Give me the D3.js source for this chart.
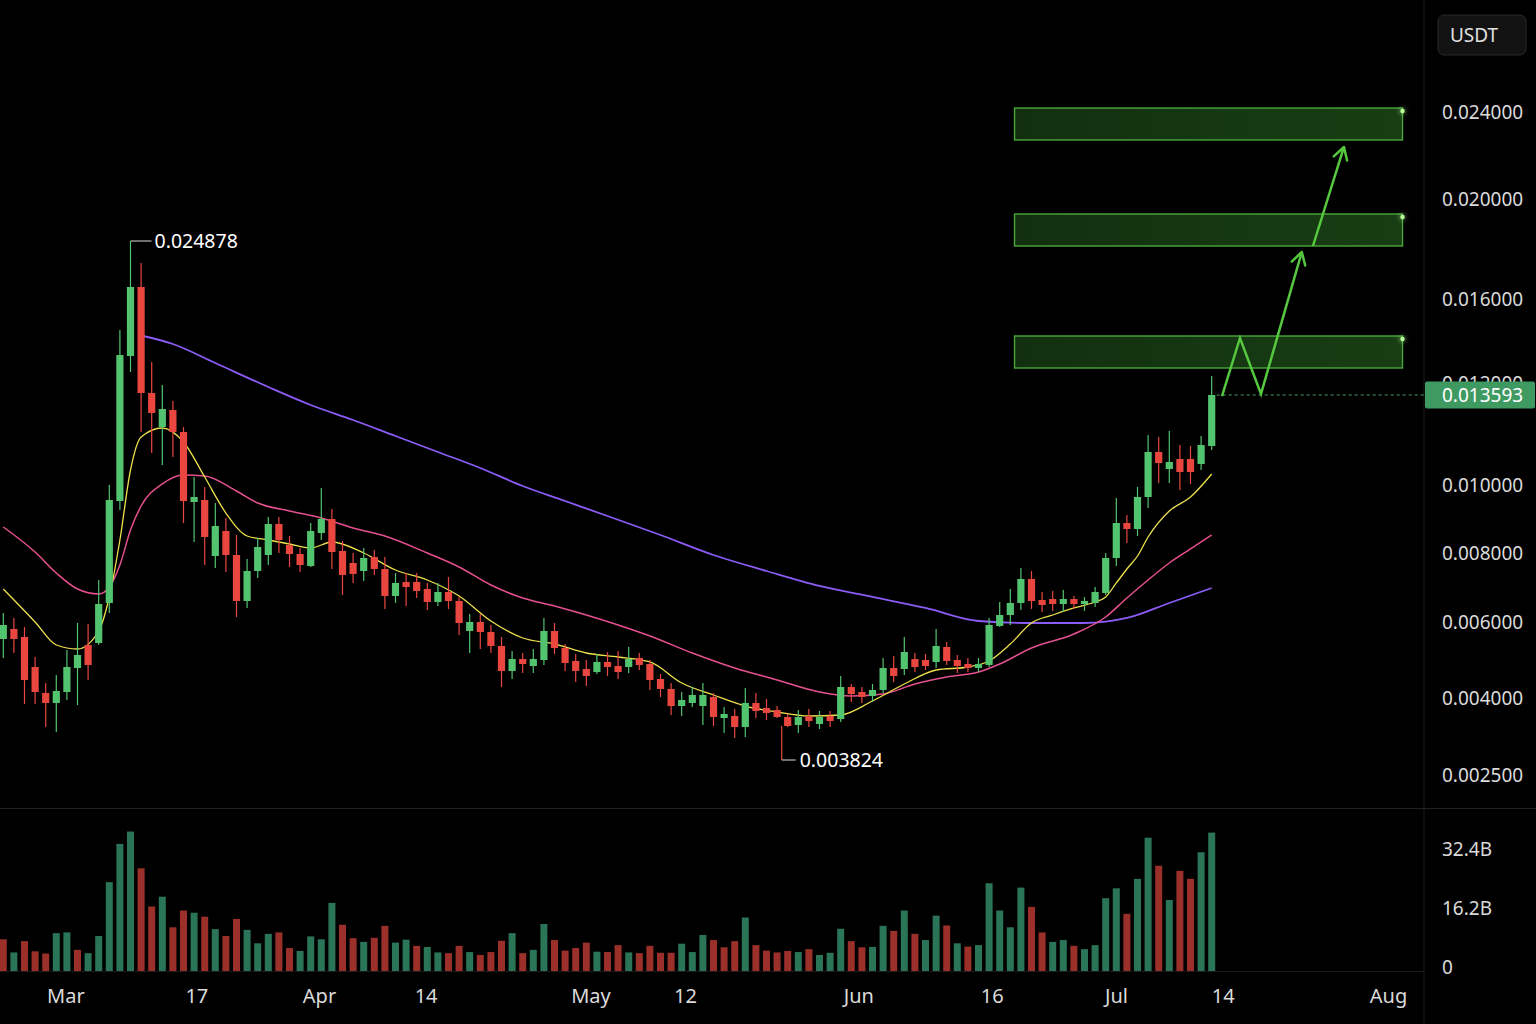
<!DOCTYPE html>
<html>
<head>
<meta charset="utf-8">
<script src="https://cdn.jsdelivr.net/npm/d3@7"></script>
<style>
  html, body { margin: 0; background: #000; }
  svg text { font-family: "Noto Sans", "DejaVu Sans", sans-serif; }
</style>
</head>
<body>
<svg id="chart" width="1536" height="1024"></svg>
<script>
// daily candles, oldest first (price in USDT)
const opens = [0.005553,0.005816,0.005606,0.004816,0.004132,0.003903,0.004158,0.004790,0.005395,0.005448,
  0.006551,0.009529,0.013286,0.016480,0.011804,0.011137,0.011471,0.011039,0.009500,0.009559,
  0.007913,0.008647,0.007942,0.006609,0.007478,0.007942,0.008853,0.008235,0.007971,0.007623,
  0.008588,0.009000,0.008059,0.007710,0.007478,0.007884,0.007536,0.006754,0.007160,0.007160,
  0.006957,0.006580,0.006870,0.006609,0.005763,0.006000,0.005737,0.005369,0.004711,0.005026,
  0.004842,0.005000,0.005763,0.005316,0.004974,0.004763,0.004684,0.004948,0.004842,0.004816,
  0.005053,0.004895,0.004500,0.004237,0.003844,0.003903,0.003844,0.004026,0.003610,0.003649,
  0.003435,0.003903,0.003805,0.003766,0.003630,0.003474,0.003649,0.003493,0.003649,0.003591,
  0.004290,0.004158,0.004053,0.004211,0.004790,0.004763,0.005026,0.005000,0.004948,0.005342,
  0.005000,0.004895,0.004790,0.004869,0.005895,0.006203,0.006551,0.007247,0.006638,0.006667,
  0.006522,0.006667,0.006522,0.006551,0.006841,0.007855,0.008882,0.008706,0.009647,0.010647,
  0.010314,0.010510,0.010510,0.010412,0.010765];
const highs = [0.006261,0.006116,0.005869,0.005079,0.004395,0.004605,0.005263,0.005974,0.005948,0.007218,
  0.010000,0.014524,0.018320,0.017440,0.013000,0.011961,0.011647,0.011137,0.010157,0.009941,
  0.009471,0.009029,0.008529,0.007826,0.008441,0.009059,0.009059,0.008500,0.008147,0.008882,
  0.009912,0.009294,0.008353,0.008000,0.008147,0.008088,0.007884,0.007421,0.007421,0.007421,
  0.007131,0.007131,0.007305,0.006725,0.006232,0.006232,0.005921,0.005606,0.005237,0.005184,
  0.005290,0.006116,0.005974,0.005421,0.005158,0.005000,0.005158,0.005211,0.005237,0.005342,
  0.005184,0.005000,0.004632,0.004395,0.004158,0.004290,0.004395,0.004132,0.003825,0.003786,
  0.004263,0.004132,0.003981,0.003844,0.003688,0.003766,0.003786,0.003747,0.003747,0.004579,
  0.004368,0.004290,0.004368,0.005053,0.005105,0.005606,0.005184,0.005158,0.005816,0.005474,
  0.005132,0.005053,0.005053,0.006116,0.006580,0.006957,0.007565,0.007478,0.006870,0.006899,
  0.006928,0.006754,0.006725,0.007015,0.008000,0.009618,0.009118,0.009941,0.010981,0.010941,
  0.011059,0.010784,0.010765,0.010961,0.012333];
const lows = [0.005053,0.005184,0.003883,0.003883,0.003435,0.003338,0.003961,0.003864,0.004474,0.005395,
  0.006261,0.009265,0.012524,0.011039,0.010628,0.010392,0.010549,0.008882,0.008324,0.007652,
  0.007565,0.007450,0.006145,0.006406,0.007276,0.007652,0.008000,0.007594,0.007450,0.007594,
  0.008382,0.007536,0.006783,0.007131,0.007189,0.007363,0.006377,0.006551,0.006464,0.006696,
  0.006348,0.006464,0.006377,0.005658,0.005184,0.005290,0.005184,0.004290,0.004500,0.004658,
  0.004658,0.004869,0.005158,0.004711,0.004421,0.004316,0.004632,0.004579,0.004500,0.004658,
  0.004737,0.004211,0.004026,0.003669,0.003649,0.003825,0.003474,0.003455,0.003318,0.003221,
  0.003240,0.003610,0.003571,0.003610,0.003435,0.003318,0.003435,0.003396,0.003435,0.003532,
  0.003922,0.003903,0.003922,0.004132,0.004421,0.004605,0.004684,0.004737,0.004790,0.004869,
  0.004658,0.004684,0.004684,0.004816,0.005869,0.005921,0.006348,0.006377,0.006290,0.006319,
  0.006290,0.006377,0.006319,0.006435,0.006783,0.007623,0.008294,0.008500,0.009324,0.010039,
  0.010039,0.009853,0.010020,0.010294,0.010686];
const closes = [0.005921,0.005553,0.004474,0.004158,0.003903,0.004184,0.004816,0.005132,0.004869,0.006522,
  0.009559,0.013333,0.016480,0.011804,0.011412,0.011490,0.011039,0.009529,0.009647,0.008471,
  0.008794,0.007942,0.006609,0.007478,0.008176,0.008853,0.008382,0.007971,0.007652,0.008647,
  0.009000,0.008029,0.007363,0.007392,0.007855,0.007536,0.006754,0.007131,0.007015,0.006899,
  0.006580,0.006870,0.006609,0.005974,0.006000,0.005737,0.005369,0.004711,0.005026,0.004895,
  0.005026,0.005763,0.005316,0.004921,0.004711,0.004579,0.004948,0.004816,0.004684,0.005026,
  0.004869,0.004474,0.004237,0.003844,0.003961,0.004079,0.004079,0.003630,0.003688,0.003435,
  0.003903,0.003747,0.003708,0.003630,0.003455,0.003630,0.003552,0.003630,0.003552,0.004290,
  0.004105,0.004026,0.004211,0.004790,0.004579,0.005211,0.004816,0.004842,0.005369,0.004974,
  0.004842,0.004790,0.004895,0.005921,0.006203,0.006551,0.007247,0.006609,0.006493,0.006522,
  0.006667,0.006522,0.006609,0.006870,0.007855,0.008882,0.008706,0.009647,0.010647,0.010431,
  0.010451,0.010255,0.010255,0.010784,0.011765];

// volume in billions, bar colour g/r
const volumes = [8.7,5.1,8.2,5.4,4.8,10.4,10.6,5.8,4.9,9.6,
  24.4,34.9,38.3,28.2,17.7,20.4,12.0,16.6,16.0,14.9,
  11.5,9.6,14.3,11.3,7.6,10.2,10.6,6.3,5.5,9.5,
  8.7,18.7,12.7,9.0,8.0,9.1,12.4,7.8,8.6,6.9,
  6.6,5.1,4.9,6.9,5.2,4.4,5.2,8.3,10.4,4.9,
  5.8,12.9,8.5,5.6,6.3,7.8,5.3,5.2,7.1,5.1,
  4.9,6.9,5.0,5.0,7.5,5.2,9.9,8.5,6.5,8.2,
  14.7,7.1,5.6,5.1,5.5,5.2,6.0,4.4,5.0,11.6,
  8.2,6.5,6.6,12.4,11.0,16.6,10.2,8.5,15.2,12.5,
  7.6,6.7,7.1,24.1,16.6,12.0,22.9,17.6,10.6,8.0,
  8.5,6.9,6.0,7.1,20.0,22.7,15.7,25.3,36.6,28.9,
  19.5,27.5,25.3,32.6,38.0];
const volDir = "rgrrrggrgg" + "gggrrgrrgr" + "grrgggrrgg" + "ggrrgrrggr" + "ggrrgrrrgr" +
  "ggrrrrgrrg" + "rrrrgggrrr" + "grrrrgrggg" + "rrggrgrggr" + "grgggggrrg" +
  "grggggrggr" + "grrgg";

// moving averages: [candle index, price]
const maFastIdx = [0,3,5,7,9,10,11,12,13,15,17,19,21,23,25,27,29,31,34,37,40,43,46,49,52,55,58,61,64,67,
  70,73,76,79,82,85,88,91,93,95,97,99,101,103,104,105,106,107,108,110,112,114];
const maFastVal = [0.006957,0.006000,0.005395,0.005290,0.005763,0.006725,0.008382,0.010294,0.010941,0.011118,
  0.010843,0.010157,0.009176,0.008500,0.008382,0.008265,0.008147,0.008324,0.008000,0.007507,
  0.007218,0.006754,0.006029,0.005579,0.005421,0.005184,0.005079,0.004948,0.004395,0.004079,
  0.003844,0.003727,0.003649,0.003669,0.003942,0.004368,0.004737,0.004816,0.004974,0.005421,
  0.005974,0.006203,0.006406,0.006580,0.006725,0.007131,0.007536,0.007913,0.008471,0.009235,
  0.009647,0.010216];
const maMidIdx = [0,3,5,7,9,10,11,12,13,15,17,19,22,24,27,30,33,36,40,43,46,49,52,55,58,61,65,69,73,77,
  80,83,86,89,92,94,97,101,104,106,108,110,112,114];
const maMidVal = [0.008765,0.008029,0.007421,0.006957,0.006812,0.007015,0.007652,0.008676,0.009382,0.010020,
  0.010196,0.010177,0.009823,0.009471,0.009235,0.009029,0.008735,0.008500,0.008000,0.007594,
  0.007073,0.006696,0.006464,0.006203,0.005921,0.005632,0.005184,0.004790,0.004474,0.004158,
  0.004053,0.004105,0.004368,0.004553,0.004684,0.004895,0.005316,0.005684,0.006145,0.006696,
  0.007218,0.007710,0.008118,0.008529];
const maSlowIdx = [13,16,20,25,29,33,37,41,45,49,53,57,62,67,72,77,82,87,92,97,102,106,110,114];
const maSlowVal = [0.014262,0.013857,0.012952,0.011922,0.011569,0.011275,0.010961,0.010647,0.010333,0.009970,
  0.009529,0.009088,0.008529,0.007942,0.007478,0.007044,0.006725,0.006406,0.006029,0.005974,
  0.005974,0.006116,0.006551,0.006986];

// axis ticks
const priceTicks = [0.0025, 0.004, 0.006, 0.008, 0.010, 0.012, 0.016, 0.020, 0.024];
const volumeTicks = [0, 16.2, 32.4];
const volumeTickLabels = ["0", "16.2B", "32.4B"];
const dateTickIdx = [5.86, 18.21, 29.78, 39.84, 55.39, 64.31, 80.66, 93.25, 104.97, 115.04, 130.63];
const dateTickLabels = ["Mar", "17", "Apr", "14", "May", "12", "Jun", "16", "Jul", "14", "Aug"];

// annotations
const lastPriceLabel = "0.013593";
const highLabel = { idx: 12, text: "0.024878" };
const lowLabel = { idx: 74, text: "0.003824" };
const zoneLow = [0.012714, 0.018120, 0.022713];
const zoneHigh = [0.014238, 0.019400, 0.024184];
const zoneFrom = 95.4, zoneTo = 132.0;
const pathZigzag = [[114.97, 0.011745], [116.67, 0.014143], [118.65, 0.011785], [122.5, 0.017880]];
const pathFinal = [[123.55, 0.018120], [126.48, 0.022391]];

const W = 1536, H = 1024, axisX = 1424;
const GREEN = "#52c470", RED = "#e8463f";

const svg = d3.select("#chart");
svg.append("rect").attr("width", W).attr("height", H).attr("fill", "#000");

const defs = svg.append("defs");
const glow = defs.append("filter").attr("id", "glow").attr("x", "-200%").attr("y", "-200%")
  .attr("width", "500%").attr("height", "500%");
glow.append("feGaussianBlur").attr("stdDeviation", 2.5).attr("result", "b");
const fm = glow.append("feMerge");
fm.append("feMergeNode").attr("in", "b");
fm.append("feMergeNode").attr("in", "SourceGraphic");

const zg = defs.append("linearGradient").attr("id", "zoneFill").attr("x1", 0).attr("x2", 1);
zg.append("stop").attr("offset", 0).attr("stop-color", "#12300f");
zg.append("stop").attr("offset", 1).attr("stop-color", "#183d14");

defs.append("marker").attr("id", "head").attr("viewBox", "-14 -9 16 18")
  .attr("markerWidth", 16).attr("markerHeight", 18).attr("markerUnits", "userSpaceOnUse")
  .attr("orient", "auto").attr("refX", 0).attr("refY", 0)
  .append("path").attr("d", "M-12,-7 L0,0 L-12,7")
  .attr("fill", "none").attr("stroke", "#55c83f").attr("stroke-width", 2.5)
  .attr("stroke-linecap", "round").attr("stroke-linejoin", "round");

// scales
const x = d3.scaleLinear().domain([0, 114]).range([3.3, 1211.7]);
const y = d3.scaleLinear().domain(priceTicks).range([775, 698, 622, 553, 485, 383, 299, 199, 112]);
const vy = d3.scaleLinear().domain([0, 32.4]).range([971, 853]);

// frame lines
svg.append("line").attr("x1", axisX).attr("x2", axisX).attr("y1", 0).attr("y2", H)
  .attr("stroke", "#1d1d1d");
svg.append("line").attr("x1", 0).attr("x2", W).attr("y1", 808.5).attr("y2", 808.5)
  .attr("stroke", "#222");
svg.append("line").attr("x1", 0).attr("x2", axisX).attr("y1", 971.5).attr("y2", 971.5)
  .attr("stroke", "#1a1a1a");

// target zones
const zones = svg.append("g");
zoneLow.forEach((lo, k) => {
  const top = y(zoneHigh[k]), bot = y(lo);
  zones.append("rect")
    .attr("x", x(zoneFrom)).attr("y", top)
    .attr("width", x(zoneTo) - x(zoneFrom)).attr("height", bot - top)
    .attr("fill", "url(#zoneFill)").attr("stroke", "#4aa83a").attr("stroke-width", 1.4);
  zones.append("circle").attr("cx", x(zoneTo)).attr("cy", top + 3).attr("r", 2.2)
    .attr("fill", "#b8ff9a").attr("filter", "url(#glow)");
});

// volume
const idx = d3.range(opens.length);
svg.append("g").selectAll("rect").data(idx).join("rect")
  .attr("x", i => x(i) - 3.5).attr("width", 7)
  .attr("y", i => vy(volumes[i])).attr("height", i => vy(0) - vy(volumes[i]))
  .attr("fill", i => volDir[i] === "g" ? "#2a7458" : "#9b2f29");

// moving averages
const maLine = d3.line().x(d => x(d[0])).y(d => y(d[1])).curve(d3.curveMonotoneX);
const mas = [
  [maSlowIdx, maSlowVal, "#8b5cf6", 1.8],
  [maMidIdx, maMidVal, "#e5508e", 1.5],
  [maFastIdx, maFastVal, "#ede04c", 1.3]
];
mas.forEach(([ix, vals, col, w]) => {
  svg.append("path").datum(ix.map((v, k) => [v, vals[k]]))
    .attr("d", maLine).attr("fill", "none").attr("stroke", col).attr("stroke-width", w);
});

// candles
const cg = svg.append("g").selectAll("g").data(idx).join("g")
  .attr("stroke", i => closes[i] >= opens[i] ? GREEN : RED)
  .attr("fill", i => closes[i] >= opens[i] ? GREEN : RED);
cg.append("line")
  .attr("x1", i => x(i)).attr("x2", i => x(i))
  .attr("y1", i => y(highs[i])).attr("y2", i => y(lows[i]))
  .attr("stroke-width", 1.2);
cg.append("rect")
  .attr("stroke", "none")
  .attr("x", i => x(i) - 3.6).attr("width", 7.2)
  .attr("y", i => y(Math.max(opens[i], closes[i])))
  .attr("height", i => Math.max(1.5, Math.abs(y(opens[i]) - y(closes[i]))));

// high / low markers
const hx = x(highLabel.idx), hy = y(highs[highLabel.idx]);
svg.append("line").attr("x1", hx).attr("x2", hx + 21).attr("y1", hy).attr("y2", hy)
  .attr("stroke", "#ddd").attr("stroke-width", 1);
svg.append("text").attr("x", hx + 24).attr("y", hy).attr("dy", "0.35em")
  .attr("fill", "#fff").attr("font-size", 19.5).text(highLabel.text);

const lx = x(lowLabel.idx) - 6, ly = y(lows[lowLabel.idx]);
svg.append("line").attr("x1", lx).attr("x2", lx).attr("y1", ly - 1).attr("y2", ly + 33)
  .attr("stroke", RED).attr("stroke-width", 1.2);
svg.append("line").attr("x1", lx).attr("x2", lx + 14).attr("y1", ly + 33).attr("y2", ly + 33)
  .attr("stroke", "#ddd").attr("stroke-width", 1);
svg.append("text").attr("x", lx + 18).attr("y", ly + 33).attr("dy", "0.35em")
  .attr("fill", "#fff").attr("font-size", 19.5).text(lowLabel.text);

// last price line
const lastY = y(closes[closes.length - 1]);
svg.append("line").attr("x1", x(114) + 5).attr("x2", axisX).attr("y1", lastY).attr("y2", lastY)
  .attr("stroke", "#4d9b63").attr("stroke-width", 1).attr("stroke-dasharray", "3,3");

// projected path
const pLine = d3.line().x(d => x(d[0])).y(d => y(d[1]));
[pathZigzag, pathFinal].forEach(p => {
  svg.append("path").datum(p).attr("d", pLine)
    .attr("fill", "none").attr("stroke", "#55c83f").attr("stroke-width", 2.5)
    .attr("stroke-linejoin", "miter").attr("marker-end", "url(#head)");
});

// axes
const axisColor = "#dadada";
const priceAxis = svg.append("g").attr("transform", `translate(${axisX},0)`)
  .call(d3.axisRight(y).tickValues(priceTicks).tickFormat(d3.format(".6f")).tickSize(0).tickPadding(18));
const volAxis = svg.append("g").attr("transform", `translate(${axisX},-4)`)
  .call(d3.axisRight(vy).tickValues(volumeTicks).tickFormat((d, i) => volumeTickLabels[i]).tickSize(0).tickPadding(18));
const dateAxis = svg.append("g").attr("transform", "translate(0,980)")
  .call(d3.axisBottom(x).tickValues(dateTickIdx).tickFormat((d, i) => dateTickLabels[i]).tickSize(0).tickPadding(9));
[priceAxis, volAxis, dateAxis].forEach(a => {
  a.select(".domain").remove();
  a.selectAll("text").attr("fill", axisColor).attr("font-family", "Noto Sans, DejaVu Sans, sans-serif");
});
priceAxis.selectAll("text").attr("font-size", 19);
volAxis.selectAll("text").attr("font-size", 19);
dateAxis.selectAll("text").attr("font-size", 20);

// current price tag
svg.append("rect").attr("x", axisX + 1).attr("y", lastY - 13.5).attr("width", 110).attr("height", 27)
  .attr("rx", 2).attr("fill", "#3f9a62");
svg.append("text").attr("x", axisX + 18).attr("y", lastY).attr("dy", "0.35em")
  .attr("fill", "#fff").attr("font-size", 19).text(lastPriceLabel);

// currency button
svg.append("rect").attr("x", 1438).attr("y", 15).attr("width", 88).attr("height", 40).attr("rx", 6)
  .attr("fill", "#121212").attr("stroke", "#2a2a2a");
svg.append("text").attr("x", 1474).attr("y", 35).attr("dy", "0.35em").attr("text-anchor", "middle")
  .attr("fill", "#e0e0e0").attr("font-size", 19).text("USDT");
</script>
</body>
</html>
